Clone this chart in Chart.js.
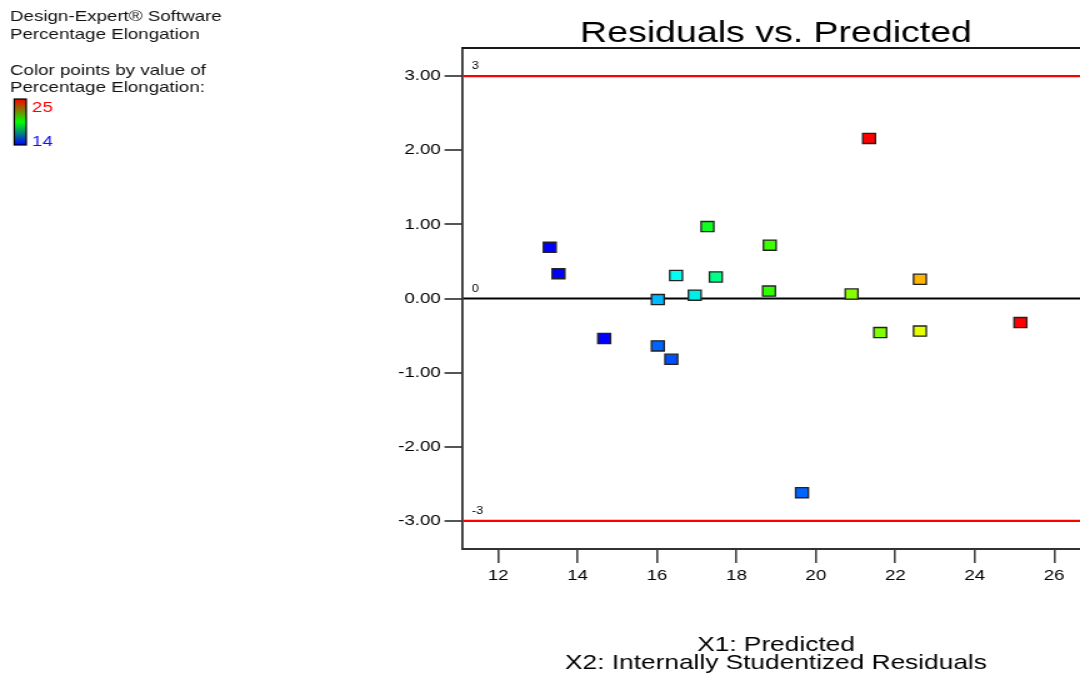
<!DOCTYPE html>
<html>
<head>
<meta charset="utf-8">
<script src="https://cdn.jsdelivr.net/npm/chart.js@4"></script>
<style>
  html, body { margin: 0; padding: 0; background: #fff; overflow: hidden; }
  /* the original picture is stretched sideways, so draw narrow and scale the box */
  #wrap { width: 864px; height: 676px; transform: scaleX(1.25); transform-origin: 0 0; }
</style>
</head>
<body>
<div id="wrap"><canvas id="residChart" width="864" height="676"></canvas></div>
<script>
// Residuals vs. Predicted
var predicted = [13.30, 13.52, 14.67, 16.02, 16.02, 16.36, 16.48, 16.95, 17.27, 17.48,
                 18.84, 18.82, 19.65, 20.90, 21.34, 21.62, 22.62, 22.62, 25.15];
var residuals = [0.69, 0.335, -0.54, -0.015, -0.64, -0.82, 0.31, 0.045, 0.97, 0.29,
                 0.72, 0.10, -2.62, 0.06, 2.16, -0.46, 0.26, -0.44, -0.325];
var pointColors = ["#0000ff", "#0000ff", "#0000ff", "#00b8ff", "#0064ff", "#0050ff", "#00fff0",
                   "#00f0e8", "#10ff20", "#00ff88", "#40ff00", "#30ff00", "#0064ff", "#88ff00",
                   "#ff0000", "#80ff00", "#ffb400", "#e4ff00", "#ff0000"];
var refLines = [3, 0, -3];
var refLabels = ["3", "0", "-3"];
var refColors = ["#ff0000", "#000000", "#ff0000"];
var xRange = [11.09, 26.65];
var yRange = [-3.38, 3.38];
var colorScale = ["25", "14"];

var FONT = "'Liberation Sans', Arial, sans-serif";

var points = [];
for (var i = 0; i < predicted.length; i++) {
  points.push({ x: predicted[i], y: residuals[i] });
}

var decorations = {
  id: 'decorations',
  beforeDatasetsDraw: function (chart) {
    var ctx = chart.ctx;
    var area = chart.chartArea;
    var ys = chart.scales.y;
    ctx.save();
    // top frame line
    ctx.strokeStyle = "#1a1a1a";
    ctx.lineWidth = 2;
    ctx.beginPath();
    ctx.moveTo(area.left, area.top);
    ctx.lineTo(area.right, area.top);
    ctx.stroke();
    // reference lines at 3, 0, -3
    for (var k = 0; k < refLines.length; k++) {
      var py = ys.getPixelForValue(refLines[k]);
      ctx.strokeStyle = refColors[k];
      ctx.lineWidth = 2.2;
      ctx.beginPath();
      ctx.moveTo(area.left + 1, py);
      ctx.lineTo(area.right, py);
      ctx.stroke();
      ctx.fillStyle = "#000";
      ctx.font = "10px " + FONT;
      ctx.textAlign = "left";
      ctx.textBaseline = "alphabetic";
      ctx.fillText(refLabels[k], area.left + 8, py - 7);
    }
    ctx.restore();
  },
  afterDraw: function (chart) {
    var ctx = chart.ctx;
    ctx.save();
    ctx.fillStyle = "#000";
    ctx.textBaseline = "alphabetic";
    // title
    ctx.textAlign = "center";
    ctx.font = "30px " + FONT;
    ctx.fillText("Residuals vs. Predicted", 620.8, 42);
    // axis titles
    ctx.font = "21px " + FONT;
    ctx.fillText("X1: Predicted", 620.8, 651);
    ctx.fillText("X2: Internally Studentized Residuals", 620.8, 669);
    // software note, top left
    ctx.textAlign = "left";
    ctx.font = "15px " + FONT;
    ctx.fillStyle = "#111";
    ctx.fillText("Design-Expert® Software", 8, 20.5);
    ctx.fillText("Percentage Elongation", 8, 38.5);
    ctx.fillText("Color points by value of", 8, 75);
    ctx.fillText("Percentage Elongation:", 8, 92);
    // color bar
    var grad = ctx.createLinearGradient(0, 99, 0, 145);
    grad.addColorStop(0, "#ff0000");
    grad.addColorStop(0.5, "#00ff00");
    grad.addColorStop(1, "#0000ff");
    ctx.fillStyle = grad;
    ctx.fillRect(11.4, 99, 9.6, 46);
    ctx.strokeStyle = "#000";
    ctx.lineWidth = 1.2;
    ctx.strokeRect(11.4, 99, 9.6, 46);
    ctx.fillStyle = "#ff0000";
    ctx.fillText(colorScale[0], 25.6, 111.5);
    ctx.fillStyle = "#1010ff";
    ctx.fillText(colorScale[1], 25.6, 146);
    ctx.restore();
  }
};

var ctxR = document.getElementById("residChart").getContext('2d');
var residChart = new Chart(ctxR, {
  type: 'scatter',
  data: {
    datasets: [{
      data: points,
      backgroundColor: pointColors,
      borderColor: "#222",
      borderWidth: 1.3,
      pointStyle: 'rect',
      pointRadius: 7.2
    }]
  },
  options: {
    responsive: false,
    animation: false,
    devicePixelRatio: 1,
    events: [],
    layout: { autoPadding: false, padding: { top: 48, left: 0, right: 0, bottom: 0 } },
    plugins: { legend: { display: false }, tooltip: { enabled: false }, title: { display: false } },
    scales: {
      x: {
        type: 'linear',
        position: 'bottom',
        min: xRange[0],
        max: xRange[1],
        afterFit: function (s) { s.height = 127; s.paddingLeft = 0; s.paddingRight = 0; },
        ticks: {
          stepSize: 2,
          includeBounds: false,
          autoSkip: false,
          maxRotation: 0,
          padding: 4,
          color: "#000",
          font: { family: FONT, size: 15 }
        },
        grid: { drawOnChartArea: false, tickLength: 14, color: "#444", lineWidth: 1.6 },
        border: { display: true, color: "#333", width: 2 }
      },
      y: {
        type: 'linear',
        min: yRange[0],
        max: yRange[1],
        afterFit: function (s) { s.width = 369.6; s.paddingTop = 0; s.paddingBottom = 0; },
        ticks: {
          stepSize: 1,
          includeBounds: false,
          padding: 3,
          color: "#000",
          font: { family: FONT, size: 15 },
          callback: function (v) { return v.toFixed(2); }
        },
        grid: { drawOnChartArea: false, tickLength: 14, color: "#555", lineWidth: 2 },
        border: { display: true, color: "#333", width: 1.8 }
      }
    }
  },
  plugins: [decorations]
});
</script>
</body>
</html>
